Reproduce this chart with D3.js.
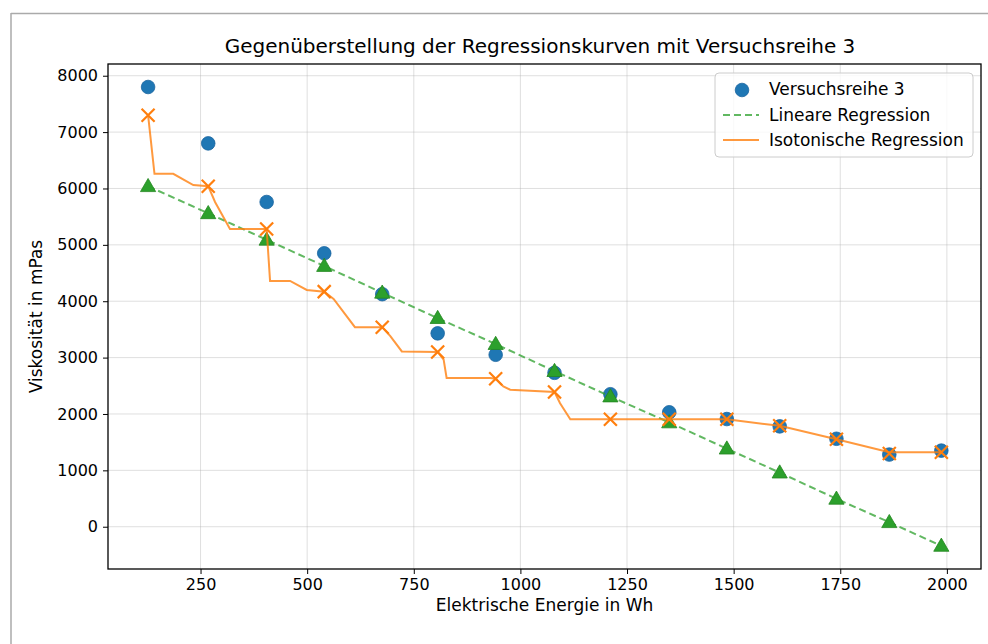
<!DOCTYPE html>
<html><head><meta charset="utf-8">
<script src="https://cdn.jsdelivr.net/npm/d3@7"></script>
<style>
body{margin:0;background:#fff;}
text{font-family:"DejaVu Sans",sans-serif;fill:#000;}
</style></head>
<body><svg id="c" width="988" height="644"></svg>
<script>
// ---- data ----
const energy = [127, 268, 405, 540, 676, 806, 942, 1080, 1211, 1349, 1484, 1608, 1741, 1865, 1987];
const measured = [7800, 6800, 5760, 4850, 4125, 3430, 3050, 2730, 2350, 2030, 1910, 1780, 1560, 1280, 1350];
const linearFit = [6040, 5560, 5090, 4625, 4150, 3700, 3240, 2760, 2310, 1850, 1385, 960, 495, 80, -340];
const isoAtPoints = [7300, 6040, 5280, 4170, 3540, 3100, 2625, 2390, 1905, 1905, 1905, 1790, 1550, 1300, 1320];
const isoCurveX = [127, 142, 186, 233, 268, 284, 319, 405, 413, 460, 499, 540, 562, 612, 676, 695, 722, 806, 820, 827, 929, 942, 960, 976, 1080, 1093, 1117, 1211, 1349, 1484, 1608, 1741, 1865, 1987];
const isoCurveY = [7300, 6260, 6260, 6060, 6040, 5760, 5280, 5280, 4360, 4360, 4200, 4170, 4040, 3540, 3540, 3380, 3110, 3100, 2965, 2640, 2640, 2625, 2490, 2430, 2390, 2190, 1905, 1905, 1905, 1905, 1790, 1550, 1320, 1320];
const xTicks = [250, 500, 750, 1000, 1250, 1500, 1750, 2000];
const yTicks = [0, 1000, 2000, 3000, 4000, 5000, 6000, 7000, 8000];
const title = "Gegenüberstellung der Regressionskurven mit Versuchsreihe 3";
const xLabel = "Elektrische Energie in Wh";
const yLabel = "Viskosität in mPas";
const legendLabels = ["Versuchsreihe 3", "Lineare Regression", "Isotonische Regression"];

const C_BLUE = "#1f77b4", C_GREEN = "#2ca02c", C_ORANGE = "#ff7f0e";

const svg = d3.select("#c");
const L = 108, R = 981, T = 64, B = 569;

// outer frame (top & left gray lines)
svg.append("line").attr("x1", 11).attr("x2", 988).attr("y1", 13.5).attr("y2", 13.5).attr("stroke", "#aaa").attr("stroke-width", 1.5);
svg.append("line").attr("x1", 11).attr("x2", 11).attr("y1", 13).attr("y2", 644).attr("stroke", "#aaa").attr("stroke-width", 1.5);

const x = d3.scaleLinear().domain([33, 2080]).range([L, R]);
const y = d3.scaleLinear().domain([-750, 8208]).range([B, T]);

// grid
const g = svg.append("g");
g.selectAll(".gx").data(xTicks).join("line")
  .attr("x1", d => x(d)).attr("x2", d => x(d)).attr("y1", T).attr("y2", B)
  .attr("stroke", "#b0b0b0").attr("stroke-opacity", 0.4).attr("stroke-width", 1);
g.selectAll(".gy").data(yTicks).join("line")
  .attr("x1", L).attr("x2", R).attr("y1", d => y(d)).attr("y2", d => y(d))
  .attr("stroke", "#b0b0b0").attr("stroke-opacity", 0.4).attr("stroke-width", 1);

// axes
const xAxis = svg.append("g").attr("transform", `translate(0,${B})`)
  .call(d3.axisBottom(x).tickValues(xTicks).tickSize(5).tickPadding(5).tickFormat(d3.format("d")));
const yAxis = svg.append("g").attr("transform", `translate(${L},0)`)
  .call(d3.axisLeft(y).tickValues(yTicks).tickSize(5).tickPadding(5).tickFormat(d3.format("d")));
[xAxis, yAxis].forEach(a => {
  a.select(".domain").remove();
  a.selectAll(".tick line").attr("stroke", "#000").attr("stroke-width", 1);
  a.selectAll(".tick text").attr("font-size", 16).attr("font-family", "DejaVu Sans").attr("fill", "#000");
});

const idx = d3.range(energy.length);

// scatter (measured)
svg.append("g").selectAll("circle").data(idx).join("circle")
  .attr("cx", i => x(energy[i])).attr("cy", i => y(measured[i])).attr("r", 6.8)
  .attr("fill", C_BLUE).attr("stroke", "#1a65a0").attr("stroke-width", 0.8);

// linear regression
svg.append("path").datum(idx)
  .attr("d", d3.line().x(i => x(energy[i])).y(i => y(linearFit[i])))
  .attr("fill", "none").attr("stroke", C_GREEN).attr("stroke-opacity", 0.75)
  .attr("stroke-width", 2).attr("stroke-dasharray", "7,4");
const tri = d3.symbol().type(d3.symbolTriangle).size(100);
svg.append("g").selectAll("path").data(idx).join("path")
  .attr("d", tri).attr("transform", i => `translate(${x(energy[i])},${y(linearFit[i]) + 1})`)
  .attr("fill", C_GREEN).attr("stroke", "#23871f").attr("stroke-width", 0.8);

// isotonic regression
const ci = d3.range(isoCurveX.length);
svg.append("path").datum(ci)
  .attr("d", d3.line().x(i => x(isoCurveX[i])).y(i => y(isoCurveY[i])))
  .attr("fill", "none").attr("stroke", C_ORANGE).attr("stroke-opacity", 0.8).attr("stroke-width", 2);
const xs = 6.5;
svg.append("g").selectAll("path").data(idx).join("path")
  .attr("d", i => { const cx = x(energy[i]), cy = y(isoAtPoints[i]);
    return `M${cx-xs},${cy-xs}L${cx+xs},${cy+xs}M${cx-xs},${cy+xs}L${cx+xs},${cy-xs}`; })
  .attr("stroke", C_ORANGE).attr("stroke-width", 2.2).attr("fill", "none");

// spines
svg.append("rect").attr("x", L).attr("y", T).attr("width", R - L).attr("height", B - T)
  .attr("fill", "none").attr("stroke", "#000").attr("stroke-width", 1.3);

// title & labels
svg.append("text").attr("x", 540).attr("y", 53).attr("text-anchor", "middle").attr("font-size", 20).text(title);
svg.append("text").attr("x", (L + R) / 2).attr("y", 611).attr("text-anchor", "middle").attr("font-size", 17).text(xLabel);
svg.append("text").attr("transform", `translate(42,${(T + B) / 2}) rotate(-90)`).attr("text-anchor", "middle").attr("font-size", 17).text(yLabel);

// legend
const lg = svg.append("g").attr("transform", "translate(715,73)");
lg.append("rect").attr("width", 258).attr("height", 84).attr("rx", 4)
  .attr("fill", "#fff").attr("fill-opacity", 0.8).attr("stroke", "#ccc").attr("stroke-width", 1);
lg.append("circle").attr("cx", 27).attr("cy", 17).attr("r", 6.8).attr("fill", C_BLUE).attr("stroke", "#1a65a0").attr("stroke-width", 0.8);
lg.append("line").attr("x1", 8).attr("x2", 44).attr("y1", 42).attr("y2", 42)
  .attr("stroke", C_GREEN).attr("stroke-opacity", 0.75).attr("stroke-width", 2).attr("stroke-dasharray", "7,4");
lg.append("line").attr("x1", 8).attr("x2", 44).attr("y1", 67).attr("y2", 67)
  .attr("stroke", C_ORANGE).attr("stroke-opacity", 0.8).attr("stroke-width", 2);
legendLabels.forEach((t, i) => {
  lg.append("text").attr("x", 54).attr("y", 22 + i * 25.5).attr("font-size", 17).text(t);
});
</script></body></html>
